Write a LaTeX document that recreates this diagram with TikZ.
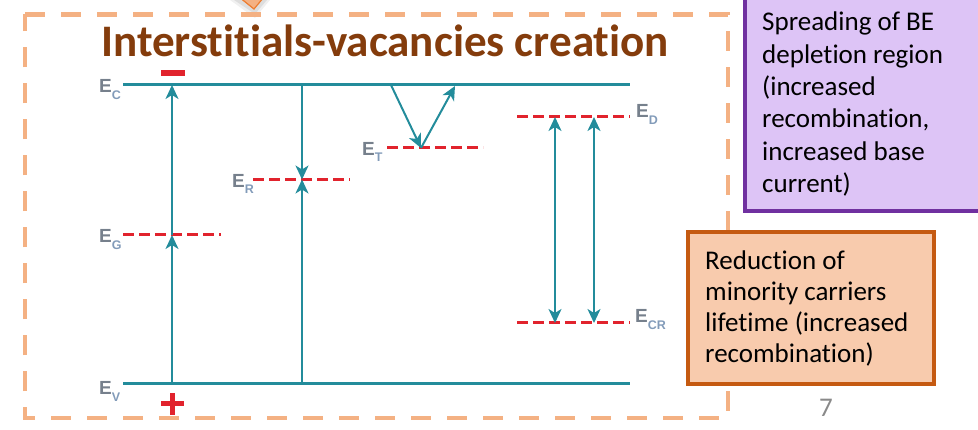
\documentclass[tikz,border=0pt]{standalone}
\usepackage{fontspec}
\setmainfont{Carlito}[Ligatures={NoCommon,NoRequired,NoContextual}]
\newfontfamily\lblfont{Liberation Sans}
\usetikzlibrary{arrows.meta}
\definecolor{teal1}{RGB}{35,140,155}
\definecolor{dred}{RGB}{225,35,45}
\definecolor{boxor}{RGB}{244,177,131}
\definecolor{calloutdraw}{RGB}{237,125,49}
\definecolor{titlebrown}{RGB}{132,60,12}
\definecolor{purplefill}{RGB}{221,196,246}
\definecolor{purpledraw}{RGB}{112,48,160}
\definecolor{orfill}{RGB}{248,203,173}
\definecolor{ordraw}{RGB}{197,90,17}
\definecolor{egray}{RGB}{118,128,140}
\definecolor{esub}{RGB}{130,155,185}
\definecolor{pgray}{RGB}{137,137,137}
\newcommand\nolig{\kern0pt }
\newcommand\elab[1]{{\fontsize{19}{19}\selectfont\bfseries E}\raisebox{-6.5pt}{\fontsize{12.5}{12.5}\selectfont\bfseries\color{esub}#1}}
\tikzset{
  level/.style={teal1, line width=3pt},
  trap/.style={dred, line width=3pt, dash pattern=on 10.5pt off 5.5pt},
  trans/.style={teal1, line width=2pt, -{Stealth[length=14pt,width=13pt,inset=4pt]}},
  transboth/.style={teal1, line width=2pt, {Stealth[length=14pt,width=13pt,inset=4pt]}-{Stealth[length=14pt,width=13pt,inset=4pt]}},
  elabel/.style={inner sep=0pt, anchor=base west, font=\lblfont, text=egray},
  boxtext/.style={inner sep=0pt, anchor=base west, text=black},
}
\begin{document}
\begin{tikzpicture}[x=1pt,y=-1pt]
\useasboundingbox (0,0) rectangle (978,430);
% callout tip with shadow
\fill[black, opacity=0.06] (230,0) -- (255,18) -- (270,0) -- cycle;
\fill[black, opacity=0.08] (234,0) -- (255,14) -- (267,0) -- cycle;
\fill[boxor, draw=calloutdraw, line width=1.2pt] (239,-3) -- (254,9) -- (264,-3) -- cycle;
% dashed frame
\draw[boxor, line width=4.5pt, dash pattern=on 20pt off 16pt] (25,14.5) -- (728,14.5) -- (728,418) -- (25,418) -- cycle;
% title
\node[inner sep=0pt, anchor=base west, text=titlebrown, font={\bfseries\fontsize{45.1}{50}\selectfont}] (title) at (101,57) {Interst\nolig it\nolig ials-vacancies creat\nolig ion};
% coordinates
\coordinate (ecL) at (123,85);  \coordinate (ecR) at (630,85);
\coordinate (evL) at (123,383.5); \coordinate (evR) at (630,383.5);
\coordinate (egL) at (123,235); \coordinate (egR) at (221,235);
\coordinate (erL) at (253,179.5); \coordinate (erR) at (350,179.5);
\coordinate (etL) at (387,148); \coordinate (etR) at (483,148);
\coordinate (edL) at (517,117); \coordinate (edR) at (630,117);
\coordinate (ecrL) at (517,323); \coordinate (ecrR) at (630,323);
\coordinate (a1v) at (172,383.5); \coordinate (a1g) at (172,235); \coordinate (a1c) at (172,85);
\coordinate (a2c) at (302,85); \coordinate (a2r) at (302,179.5); \coordinate (a2v) at (302,383.5);
\coordinate (a3c) at (391,85); \coordinate (a3t) at (421,148); \coordinate (a3e) at (455,86);
\coordinate (a4d) at (555,117); \coordinate (a4c) at (555,323);
\coordinate (a5d) at (594,117); \coordinate (a5c) at (594,323);
% levels
\draw[level] (ecL) -- (ecR);
\draw[level] (evL) -- (evR);
\draw[trap] (egL) -- (egR);
\draw[trap] (erL) -- (erR);
\draw[trap] (etL) -- (etR);
\draw[trap] (edL) -- (edR);
\draw[trap] (ecrL) -- (ecrR);
% transitions
\draw[trans] (a1v) -- (a1g);
\draw[trans] (a1g) -- (a1c);
\draw[trans] (a2c) -- (a2r);
\draw[trans] (a2v) -- (a2r);
\draw[trans] (a3c) -- (a3t);
\draw[trans] (a3t) -- (a3e);
\draw[transboth] (a4d) -- (a4c);
\draw[transboth] (a5d) -- (a5c);
% signs
\fill[dred] (161,70.5) rectangle (185,76.5);
\fill[dred] (161,401.5) rectangle (184,406.5);
\fill[dred] (170,393) rectangle (175,415);
% level labels
\node[elabel] (lEC) at (99,93) {\elab{C}};
\node[elabel] (lEG) at (99,243) {\elab{G}};
\node[elabel] (lEV) at (99,395) {\elab{V}};
\node[elabel] (lER) at (232,187.5) {\elab{R}};
\node[elabel] (lET) at (362,155.5) {\elab{T}};
\node[elabel] (lED) at (636,118) {\elab{D}};
\node[elabel] (lECR) at (635,323) {\elab{CR}};
% purple box
\fill[purplefill, draw=purpledraw, line width=4pt] (745,-10) rectangle (990,211);
\node[boxtext] (ptext) at (762,31) {\parbox[t]{215pt}{\raggedright\fontsize{27}{32.3}\selectfont Spreading of BE\\deplet\nolig ion region\\(increased\\recombinat\nolig ion,\\increased base\\current)}};
% orange box
\fill[orfill, draw=ordraw, line width=4pt] (688,232) rectangle (934,384);
\node[boxtext] (otext) at (705,270) {\parbox[t]{225pt}{\raggedright\fontsize{27}{31}\selectfont Reduct\nolig ion of\\minority carriers\\lifet\nolig ime (increased\\recombinat\nolig ion)}};
% page number
\node[inner sep=0pt, anchor=base west, text=pgray, font={\fontsize{27}{30}\selectfont}] (pnum) at (819,417) {7};
\end{tikzpicture}
\end{document}
